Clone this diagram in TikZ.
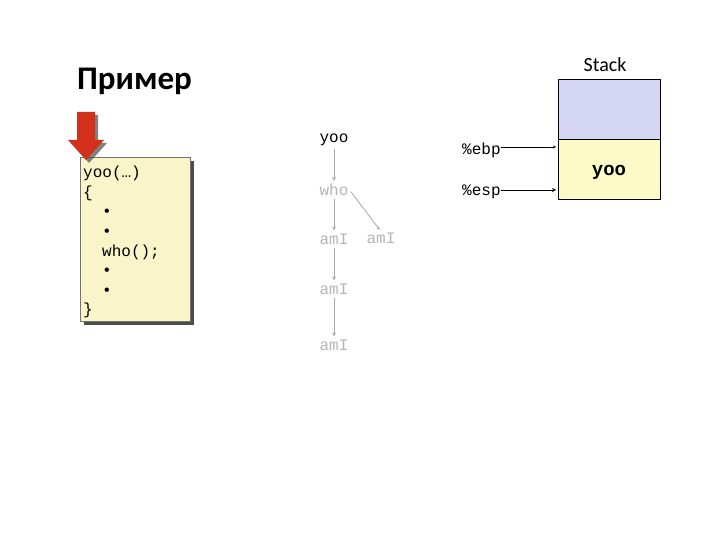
\documentclass[tikz,border=0pt]{standalone}
\usepackage{fontspec}
\setmainfont{Carlito}
\newfontfamily\codefont{Liberation Mono}
\usetikzlibrary{shadows}

\definecolor{codebg}{HTML}{F9F5C8}
\definecolor{stackblue}{HTML}{D5D6F3}
\definecolor{stackyellow}{HTML}{FCFAC6}
\definecolor{callred}{HTML}{D3301C}
\definecolor{fadetext}{HTML}{B4B4B4}
\definecolor{fadeline}{HTML}{A8A8A8}

\tikzset{
  codetext/.style={font=\codefont\fontsize{16}{19.6}\selectfont},
  callnode/.style={codetext, text=fadetext, inner sep=1pt},
  callarrow/.style={draw=fadeline, thick, -stealth, shorten >=2pt, shorten <=2pt},
  frame/.style={draw=black, thick, minimum width=102pt, minimum height=60pt, inner sep=0pt},
  regarrow/.style={-stealth, black}
}

\begin{document}
\begin{tikzpicture}[x=1pt, y=-1pt]
\useasboundingbox (0,0) rectangle (720,540);

% title
\node[anchor=south west, inner sep=0pt, font=\bfseries\fontsize{33}{38}\selectfont] (title) at (77,95) {Пример};

% code listing
\node[draw=black!55, fill=codebg, anchor=north west, minimum width=110pt, minimum height=164pt,
      inner sep=0pt,
      drop shadow={shadow xshift=4pt, shadow yshift=-4pt, fill=black!70, opacity=1}] (code) at (80,157) {};
\node[anchor=north west, text width=106pt, align=left, inner sep=0pt, codetext] (codelines) at ([xshift=3pt, yshift=-9pt]code.north west) {%
yoo(…)\\
\{\\
\hspace*{19pt}•\\
\hspace*{19pt}•\\
\hspace*{19pt}who();\\
\hspace*{19pt}•\\
\hspace*{19pt}•\\
\}};

% red pointer
\fill[callred, drop shadow={shadow xshift=3pt, shadow yshift=-3pt, fill=black!70, opacity=0.7}]
  (77,112) -- (95,112) -- (95,140) -- (104,140) -- (86,160) -- (68,140) -- (77,140) -- cycle;

% call tree
\node[callnode, text=black] (yoo) at (334,140) {yoo};
\node[callnode] (who) at (334,190) {who};
\node[callnode] (amI1) at (334,239) {amI};
\node[callnode] (amI4) at (381,238) {amI};
\node[callnode] (amI2) at (334,289) {amI};
\node[callnode] (amI3) at (334,345) {amI};
\draw[callarrow] (yoo) -- (who);
\draw[callarrow] (who) -- (amI1);
\draw[callarrow] (who.east) -- (amI4.north);
\draw[callarrow] (amI1) -- (amI2);
\draw[callarrow] (amI2) -- (amI3);

% stack
\node[font=\fontsize{20}{24}\selectfont] (stacklabel) at (605,65) {Stack};
\node[frame, fill=stackyellow, anchor=north west] (frame2) at (558,139) {};
\node[frame, fill=stackblue, anchor=north west] (frame1) at (558,79) {};
\node[font=\codefont\bfseries\fontsize{19}{22}\selectfont] (yoostack) at (609,172) {yoo};

\node[codetext, anchor=west, inner sep=0pt] (ebp) at (462,150) {\%ebp};
\node[codetext, anchor=west, inner sep=0pt] (esp) at (462,192) {\%esp};
\coordinate (ebpend) at (556,147);
\coordinate (espend) at (556,190);
\draw[regarrow] (ebp.east |- ebpend) -- (ebpend);
\draw[regarrow, thick] (esp.east |- espend) -- (espend);
\end{tikzpicture}
\end{document}
